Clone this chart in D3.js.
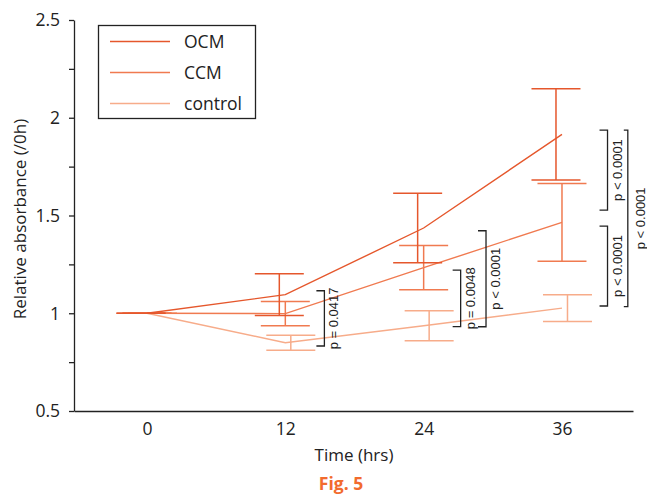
<!DOCTYPE html>
<html>
<head>
<meta charset="utf-8">
<script src="https://cdn.jsdelivr.net/npm/d3@7"></script>
<style>
  html, body { margin: 0; padding: 0; background: #fff; }
  svg { display: block; }
</style>
</head>
<body>
<svg id="chart" width="647" height="495"></svg>
<script>
// ---------- data ----------
const times = [0, 12, 24, 36];
const seriesNames = ["OCM", "CCM", "control"];
const ocmMean = [1.0, 1.095, 1.436, 1.915];
const ocmSD   = [0, 0.107, 0.178, 0.233];
const ccmMean = [1.0, 0.998, 1.233, 1.465];
const ccmSD   = [0, 0.062, 0.113, 0.199];
const ctrlMean = [1.0, 0.849, 0.936, 1.026];
const ctrlSD   = [0, 0.038, 0.077, 0.068];
const yTickLabels = [0.5, 1, 1.5, 2, 2.5];
const yMinorTicks = [0.5, 0.75, 1, 1.25, 1.5, 1.75, 2, 2.25, 2.5];

// significance brackets (time position, top value, bottom value, label)
const bracketTime   = [15.39, 27.21, 29.41, 39.95, 39.95, 41.71];
const bracketTop    = [1.115, 1.221, 1.422, 1.937, 1.446, 1.937];
const bracketBottom = [0.8325, 0.932, 0.931, 1.528, 1.037, 1.034];
const bracketLabel  = ["p = 0.0417", "p = 0.0048", "p < 0.0001", "p < 0.0001", "p < 0.0001", "p < 0.0001"];

// ---------- styles ----------
const colors = ["#E5572C", "#F07A50", "#F7AC8A"];
const barOffset = [-6, 0, 5.5];   // px offset of error bars per series
const capHalf = 24.5;
const font = "'Open Sans', 'Noto Sans', sans-serif";

const svg = d3.select("#chart");
const x = d3.scaleLinear().domain([-6.33, 42.16]).range([74, 633]);
const y = d3.scaleLinear().domain([0.5, 2.5]).range([411, 20]);

// ---------- axes ----------
const yAxisG = svg.append("g").attr("transform", "translate(74,0)")
  .call(d3.axisLeft(y).tickValues(yMinorTicks).tickSize(5).tickSizeOuter(0)
    .tickFormat(d => yTickLabels.includes(d) ? d3.format("")(d) : ""));
yAxisG.selectAll("path, line").attr("stroke", "#222").attr("stroke-width", 1.3);
yAxisG.selectAll("text").attr("font-family", font).attr("font-size", 17.5)
  .attr("fill", "#222").attr("x", -14).attr("dy", "0.34em");

const xAxisG = svg.append("g").attr("transform", "translate(0,411)")
  .call(d3.axisBottom(x).tickValues(times).tickSize(0).tickSizeOuter(0).tickPadding(12));
xAxisG.select("path").attr("stroke", "#222").attr("stroke-width", 1.3);
xAxisG.selectAll("text").attr("font-family", font).attr("font-size", 17.5).attr("fill", "#222")
  .attr("dy", "0.71em");

svg.append("text").attr("x", 354).attr("y", 461).attr("text-anchor", "middle")
  .attr("font-family", font).attr("font-size", 17).attr("fill", "#222").text("Time (hrs)");
svg.append("text").attr("transform", "translate(26,219) rotate(-90)").attr("text-anchor", "middle")
  .attr("font-family", font).attr("font-size", 17).attr("fill", "#222").text("Relative absorbance (/0h)");
svg.append("text").attr("x", 341).attr("y", 490).attr("text-anchor", "middle")
  .attr("font-family", font).attr("font-size", 17.5).attr("font-weight", "bold")
  .attr("fill", "#F26B2E").text("Fig. 5");

// ---------- series ----------
const series = [
  { name: seriesNames[0], mean: ocmMean, sd: ocmSD },
  { name: seriesNames[1], mean: ccmMean, sd: ccmSD },
  { name: seriesNames[2], mean: ctrlMean, sd: ctrlSD }
];
const line = d3.line().x(d => x(d.t)).y(d => y(d.v));

// draw control first so darker lines sit on top
[2, 1, 0].forEach(i => {
  const s = series[i];
  const pts = times.map((t, j) => ({ t, v: s.mean[j], sd: s.sd[j] }));
  const g = svg.append("g");
  g.append("path").datum(pts).attr("d", line).attr("fill", "none")
    .attr("stroke", colors[i]).attr("stroke-width", 1.4);
  pts.forEach(p => {
    const cx = x(p.t) + barOffset[i];
    const yt = y(p.v + p.sd), yb = y(p.v - p.sd);
    g.append("line").attr("x1", cx).attr("x2", cx).attr("y1", yt).attr("y2", yb)
      .attr("stroke", colors[i]).attr("stroke-width", 1.5);
    [yt, yb].forEach(yy => g.append("line")
      .attr("x1", cx - capHalf).attr("x2", cx + capHalf).attr("y1", yy).attr("y2", yy)
      .attr("stroke", colors[i]).attr("stroke-width", 1.5));
  });
});

// ---------- brackets ----------
bracketTime.forEach((t, i) => {
  const bx = x(t), yt = y(bracketTop[i]), yb = y(bracketBottom[i]);
  const tl = i === 5 ? 4 : 8;
  svg.append("path")
    .attr("d", `M${bx - tl},${yt}H${bx}V${yb}H${bx - tl}`)
    .attr("fill", "none").attr("stroke", "#222").attr("stroke-width", 1.3);
  const off = i === 5 ? 17 : 14;
  svg.append("text")
    .attr("transform", `translate(${bx + off},${(yt + yb) / 2}) rotate(-90)`)
    .attr("text-anchor", "middle")
    .attr("font-family", "'Liberation Sans', Arial, sans-serif").attr("font-size", 13)
    .attr("fill", "#222").text(bracketLabel[i]);
});

// ---------- legend ----------
const lg = svg.append("g");
lg.append("rect").attr("x", 98.5).attr("y", 25.5).attr("width", 157).attr("height", 93)
  .attr("fill", "#fff").attr("stroke", "#222").attr("stroke-width", 1.3);
const legendY = [41.5, 72.5, 103.5];
seriesNames.forEach((n, i) => {
  lg.append("line").attr("x1", 110).attr("x2", 170).attr("y1", legendY[i]).attr("y2", legendY[i])
    .attr("stroke", colors[i]).attr("stroke-width", 1.4);
  lg.append("text").attr("x", 184).attr("y", legendY[i]).attr("dy", "0.36em")
    .attr("font-family", font).attr("font-size", 17.5).attr("fill", "#222").text(n);
});
</script>
</body>
</html>
